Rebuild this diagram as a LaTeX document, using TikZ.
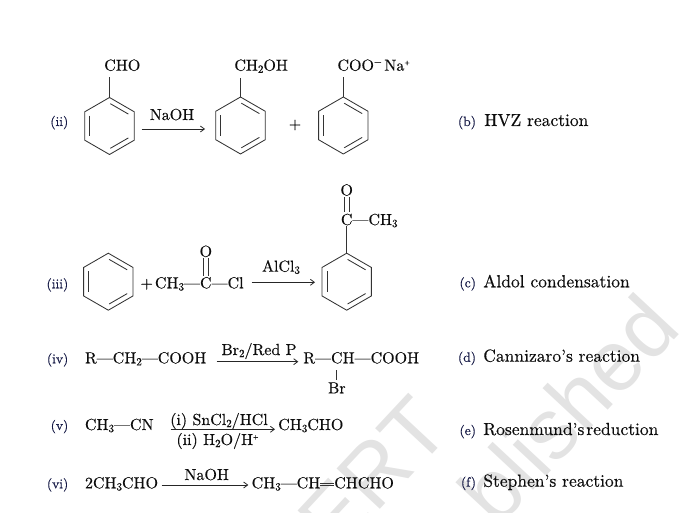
\documentclass[tikz,border=0pt]{standalone}
\usepackage{fontspec}
\newfontfamily\wmfont{Liberation Sans}
\newfontface\chemfont{lmroman10-regular.otf}[Ligatures=TeX, FakeBold=0.35]
\usetikzlibrary{arrows.meta}
\definecolor{labc}{RGB}{22,26,70}
\newcommand\chsub[1]{\raisebox{-0.3ex}{\fontsize{11}{11}\selectfont #1}}
\newcommand\chsup[1]{\raisebox{0.85ex}{\fontsize{10}{10}\selectfont #1}}
\tikzset{
  chem/.style={inner sep=0pt, outer sep=0pt, font=\chemfont\fontsize{16}{19}\selectfont, text=black!95},
  txt/.style={inner sep=0pt, outer sep=0pt, font=\chemfont\fontsize{17.5}{20}\selectfont, text=black!95},
  lab/.style={inner sep=0pt, outer sep=0pt, font=\chemfont\fontsize{13.5}{16}\selectfont, text=labc},
  wm/.style={inner sep=0pt, font=\wmfont\fontsize{86}{86}\selectfont, text=black!11},
  ring/.style={line width=0.85pt, draw=black!80, line join=miter},
  inner/.style={line width=0.85pt, draw=black!80, shorten <=1pt, shorten >=1pt},
  bond/.style={line width=0.8pt, draw=black!80},
  rxn/.style={line width=0.8pt, draw=black!85, -{Straight Barb[length=4pt,width=6pt]}},
}
\newcommand\mybenz[3]{%
  \begin{scope}[shift={(#1,#2)}]
    \draw[ring] (0,-28.5) -- (24.68,-14.25) -- (24.68,14.25) -- (0,28.5)
      -- (-24.68,14.25) -- (-24.68,-14.25) -- cycle;
    \draw[inner] (-19.75,-11.4) -- (-19.75,11.4);
    \draw[inner] (0,-22.8) -- (19.75,-11.4);
    \draw[inner] (19.75,11.4) -- (0,22.8);
    \coordinate (#3) at (0,-28.5);
  \end{scope}}
\begin{document}
\begin{tikzpicture}[x=1pt,y=-1pt]
\useasboundingbox (0,0) rectangle (699,513);
% watermark
\begin{scope}
  \clip (0,0) rectangle (699,513);
  \node[wm, anchor=base east, rotate=47] (wm1) at (453,432) {CERT};
  \node[wm, anchor=base east, rotate=47] (wm2) at (683,330) {blished};
\end{scope}

% ---- row (ii)
\node[lab, anchor=base east] (lii) at (68.3,126) {(ii)};
\mybenz{109.5}{126}{aT}
\node[chem, anchor=base west] (cho) at (104.3,70.7) {CHO};
\draw[bond, shorten >=5.5pt] (aT) -- (aT |- cho.south);
\coordinate (a1s) at (141.7,129);
\coordinate (a1e) at (205,129);
\draw[rxn] (a1s) -- (a1e);
\node[chem, anchor=base] (naoh1) at (172,120) {NaOH};
\mybenz{240.5}{125.5}{bT}
\node[chem, anchor=base west] (ch2oh) at (234.4,70.7) {CH\chsub{2}OH};
\draw[bond, shorten >=5.5pt] (bT) -- (bT |- ch2oh.south);
\node[chem] (plus1) at (295,125) {+};
\mybenz{343.3}{125.5}{cT}
\node[chem, anchor=base west] (coo) at (337.5,70.7) {COO\chsup{\symbol{"2212}}\,Na\chsup{\fontsize{7}{7}\selectfont +}};
\draw[bond, shorten >=5.5pt] (cT) -- (cT |- coo.south);
\node[lab, anchor=base east] (lb) at (476,126) {(b)};
\node[txt, anchor=base west] (tb) at (484.3,126) {HVZ reaction};

% ---- row (iii)
\node[lab, anchor=base east] (liii) at (68.3,288.3) {(iii)};
\mybenz{108.3}{281.7}{dT}
\node[chem, anchor=base] (plus2) at (146.7,288.3) {+};
\node[chem, anchor=base west] (ch3a) at (155,288.3) {CH\chsub{3}---};
\node[chem, anchor=base west] (cc) at (ch3a.base east) {C};
\node[chem, anchor=base west] (cl) at (cc.base east) {---Cl};
\node[chem, anchor=base] (oa) at ([yshift=31.5pt]cc.base) {O};
\draw[bond, shorten <=1.3pt, shorten >=1.5pt] ([xshift=-2.2pt]oa.south) -- ([xshift=-2.2pt]cc.north);
\draw[bond, shorten <=1.3pt, shorten >=1.5pt] ([xshift=2.2pt]oa.south) -- ([xshift=2.2pt]cc.north);
\coordinate (a2s) at (251.7,282.3);
\coordinate (a2e) at (315,282.3);
\draw[rxn] (a2s) -- (a2e);
\node[chem, anchor=base] (alcl) at (281,271.7) {AlCl\chsub{3}};
\mybenz{346.7}{281.7}{eT}
\node[chem, anchor=base] (ce) at (346.7,225) {C};
\draw[bond, shorten >=0.5pt] (eT) -- (ce.south);
\node[chem, anchor=base] (oe) at ([yshift=29.5pt]ce.base) {O};
\draw[bond, shorten <=1.3pt, shorten >=1.5pt] ([xshift=-2.2pt]oe.south) -- ([xshift=-2.2pt]ce.north);
\draw[bond, shorten <=1.3pt, shorten >=1.5pt] ([xshift=2.2pt]oe.south) -- ([xshift=2.2pt]ce.north);
\node[chem, anchor=base west] (ch3e) at (ce.base east) {---CH\chsub{3}};
\node[lab, anchor=base east] (lc) at (476,287.3) {(c)};
\node[txt, anchor=base west] (tc) at (483.3,287.3) {Aldol condensation};

% ---- row (iv)
\node[lab, anchor=base east] (liv) at (68.3,363.3) {(iv)};
\node[chem, anchor=base west] (r1) at (85,363.3) {R---CH\chsub{2}---COOH};
\coordinate (a3s) at (216.7,361.7);
\coordinate (a3e) at (298.3,361.7);
\draw[rxn] (a3s) -- (a3e);
\node[chem, anchor=base] (brp) at (259,355) {Br\chsub{2}/Red P};
\node[chem, anchor=base west] (r2a) at (303.3,363.3) {R---};
\node[chem, anchor=base west] (r2c) at (r2a.base east) {C};
\node[chem, anchor=base west] (r2b) at (r2c.base east) {H---COOH};
\node[chem, anchor=base] (br) at ([yshift=-30pt]r2c.base) {Br};
\draw[bond, shorten <=6.5pt, shorten >=2pt] (r2c.south) -- (br.north);
\node[lab, anchor=base east] (ld) at (476,361.7) {(d)};
\node[txt, anchor=base west] (td) at (483.3,361.7) {Cannizaro's reaction};

% ---- row (v)
\node[lab, anchor=base east] (lv) at (68.3,430) {(v)};
\node[chem, anchor=base west] (s1) at (85,430) {CH\chsub{3}---CN};
\coordinate (a4s) at (170.7,429.3);
\coordinate (a4e) at (275,429.3);
\draw[rxn] (a4s) -- (a4e);
\node[chem, anchor=base] (sncl) at (219,425) {(i) SnCl\chsub{2}/HCl};
\node[chem, anchor=base] (h2o) at (217.5,445) {(ii) H\chsub{2}O/H\chsup{\fontsize{7}{7}\selectfont +}};
\node[chem, anchor=base west] (s2) at (278.3,430) {CH\chsub{3}CHO};
\node[lab, anchor=base east] (le) at (476,435) {(e)};
\node[txt, anchor=base west] (te) at (483.3,435) {Rosenmund's\hskip2pt reduction};

% ---- row (vi)
\node[lab, anchor=base east] (lvi) at (68.3,488.3) {(vi)};
\node[chem, anchor=base west] (t1) at (85,488.3) {2CH\chsub{3}CHO};
\coordinate (a5s) at (161.7,485);
\coordinate (a5e) at (248.3,485);
\draw[rxn] (a5s) -- (a5e);
\node[chem, anchor=base] (naoh2) at (206.7,480) {NaOH};
\node[chem, anchor=base west] (t2a) at (251.7,488.3) {CH\chsub{3}---CH};
\node[chem, anchor=base west] (t2b) at ([xshift=14pt]t2a.base east) {CHCHO};
\draw[bond] ([yshift=2.8pt]t2a.base east) -- ([yshift=2.8pt]t2b.base west);
\draw[bond] ([yshift=5.4pt]t2a.base east) -- ([yshift=5.4pt]t2b.base west);
\node[lab, anchor=base east] (lf) at (476,486.7) {(f)};
\node[txt, anchor=base west] (tf) at (483.3,486.7) {Stephen's reaction};
\end{tikzpicture}
\end{document}
